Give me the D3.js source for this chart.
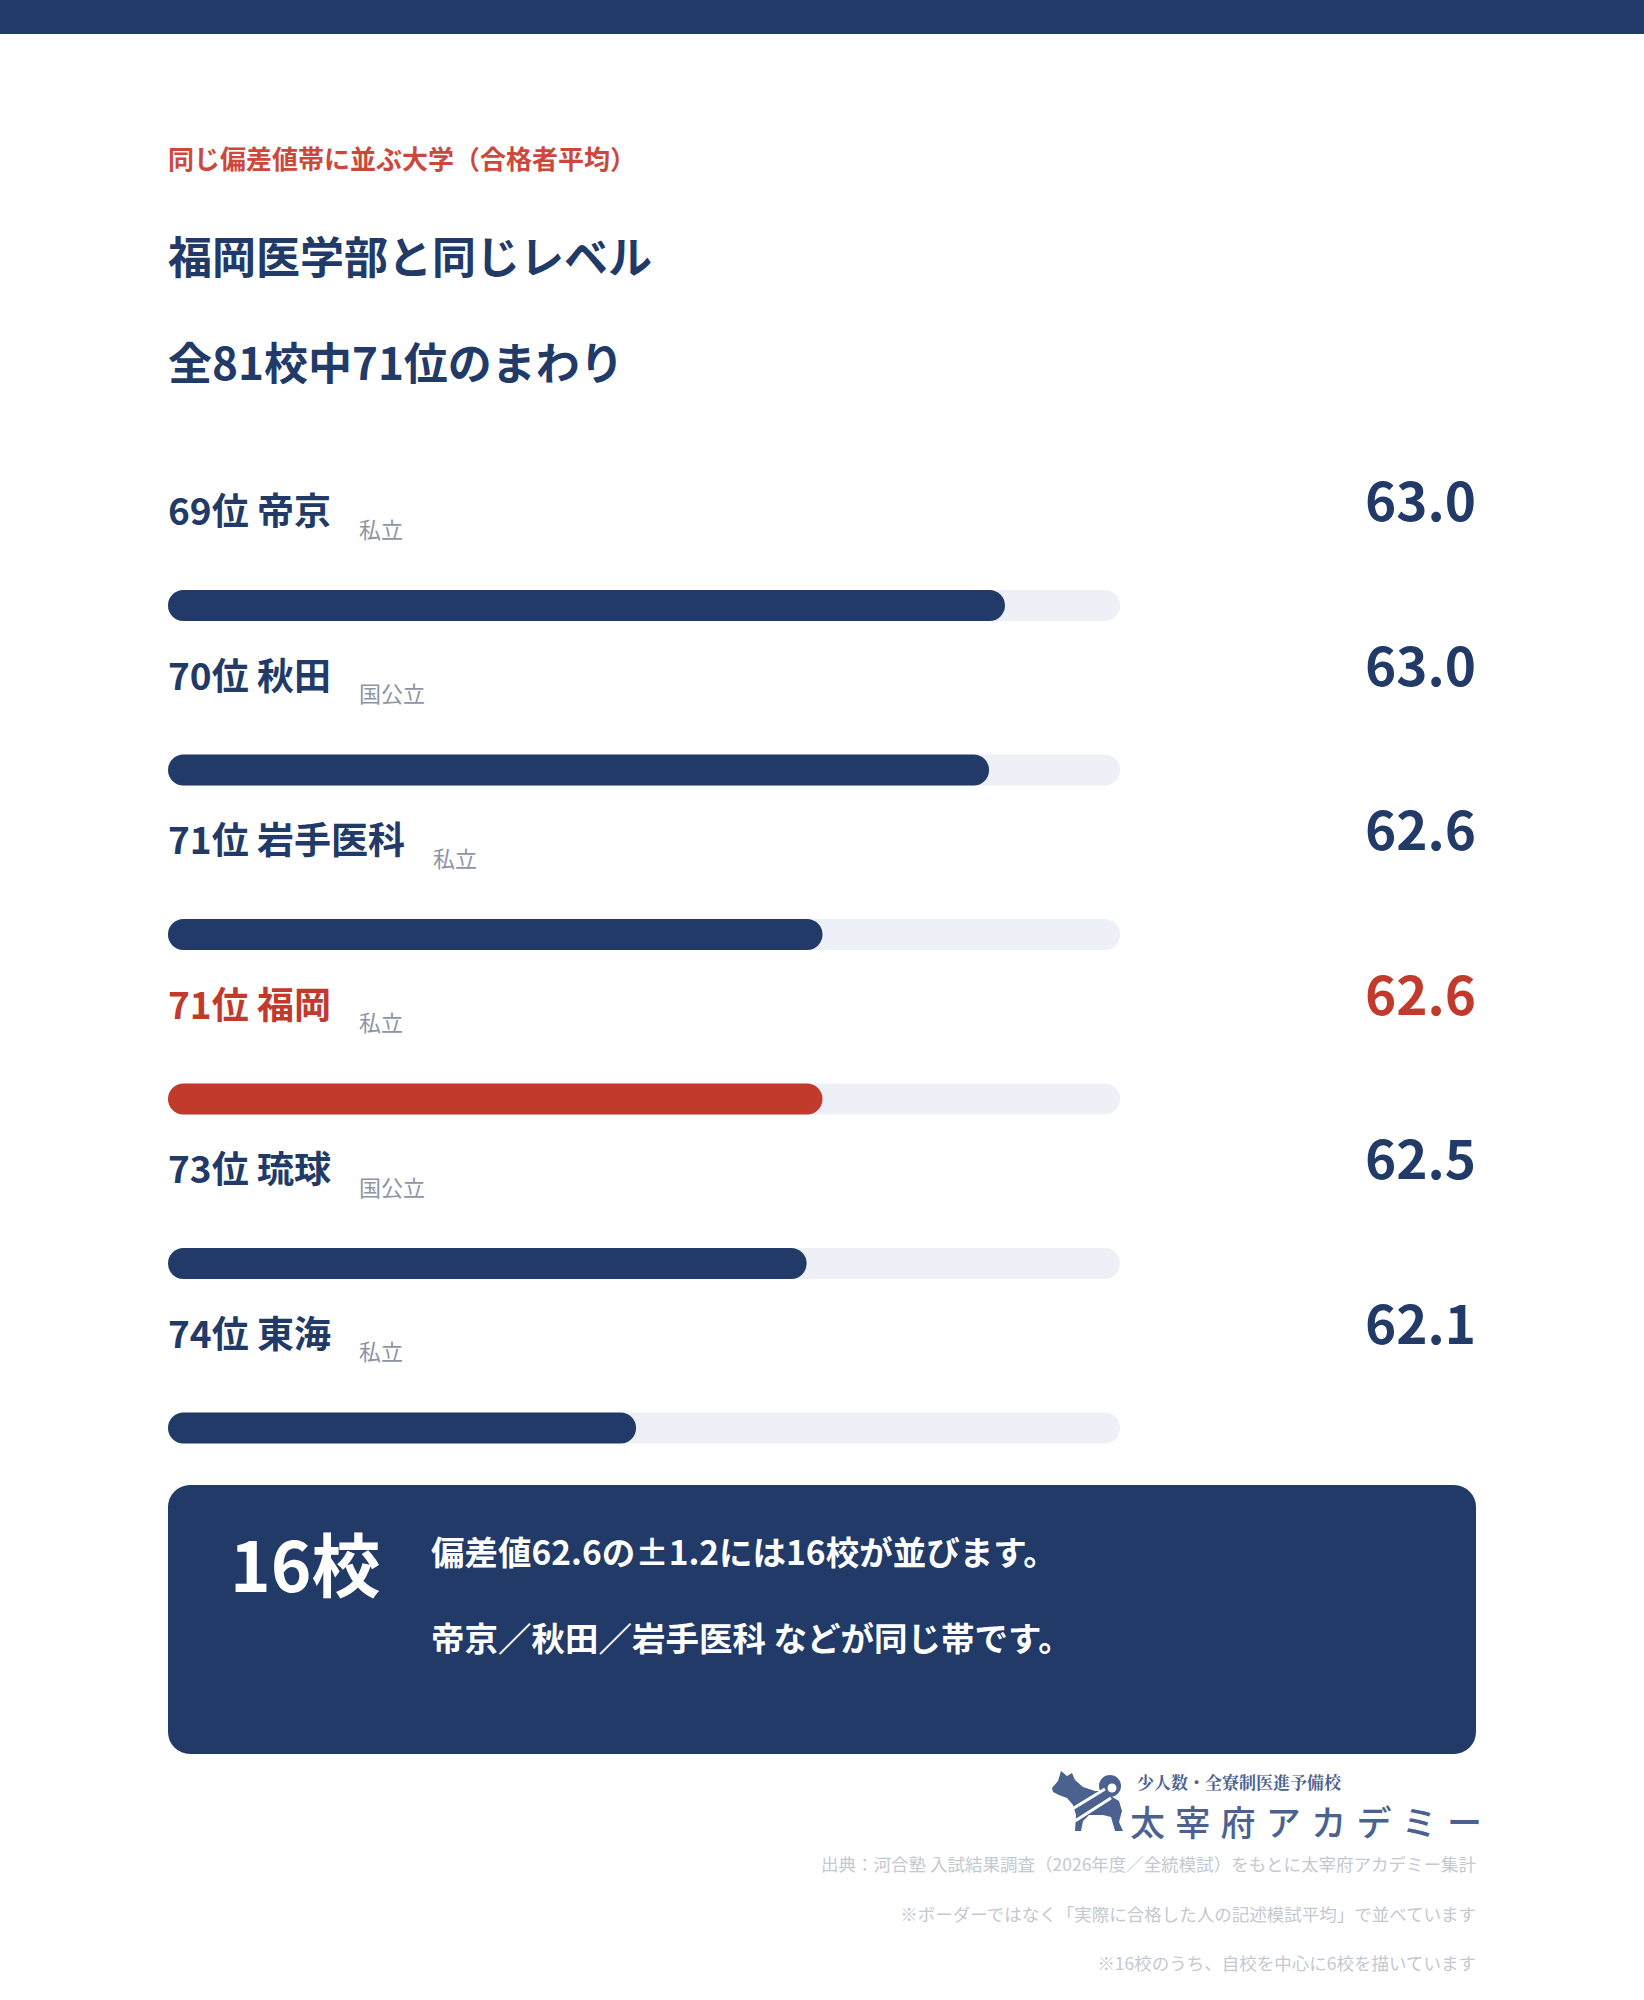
<!DOCTYPE html>
<html lang="ja">
<head>
<meta charset="utf-8">
<title>福岡医学部と同じレベル</title>
<script src="https://cdn.jsdelivr.net/npm/d3@7"></script>
<style>
    html, body { margin: 0; padding: 0; background: #fff; }
    svg { display: block; font-family: "Noto Sans CJK JP", "Noto Sans", sans-serif; }
</style>
</head>
<body>
<svg id="chart"></svg>
<script>
// data
var ranks = [69, 70, 71, 71, 73, 74];
var schools = ["帝京", "秋田", "岩手医科", "福岡", "琉球", "東海"];
var types = ["私立", "国公立", "私立", "私立", "国公立", "私立"];
var scores = [63.03, 62.99, 62.57, 62.57, 62.53, 62.10];
var highlight = "福岡";
var scoreDomain = [60.92, 63.32];

var kicker = "同じ偏差値帯に並ぶ大学（合格者平均）";
var titleLines = ["福岡医学部と同じレベル", "全81校中71位のまわり"];
var bandCount = "16校";
var summaryLines = ["偏差値62.6の±1.2には16校が並びます。", "帝京／秋田／岩手医科 などが同じ帯です。"];
var logoSub = "少人数・全寮制医進予備校";
var logoMain = "太宰府アカデミー";
var notes = [
    "出典：河合塾 入試結果調査（2026年度／全統模試）をもとに太宰府アカデミー集計",
    "※ボーダーではなく「実際に合格した人の記述模試平均」で並べています",
    "※16校のうち、自校を中心に6校を描いています"
];

var navy = "#213a67", red = "#c23a2c", track = "#edf0f7", grey = "#8d95a5";

var W = 1644, H = 2000,
    left = 168, right = 1476,
    trackWidth = 952;

var svg = d3.select("#chart").attr("width", W).attr("height", H);

svg.append("rect").attr("width", W).attr("height", H).attr("fill", "#fff");
svg.append("rect").attr("width", W).attr("height", 34).attr("fill", navy);

// heading
svg.append("text")
    .attr("x", left).attr("y", 169)
    .attr("fill", "#cd483c").attr("font-size", 26).attr("font-weight", 700)
    .text(kicker);

svg.selectAll(".title")
    .data(titleLines)
    .enter().append("text")
    .attr("class", "title")
    .attr("x", left)
    .attr("y", function (d, i) { return 274 + i * 106; })
    .attr("fill", navy).attr("font-size", 44).attr("font-weight", 700)
    .text(function (d) { return d; });

// rows
var rows = schools.map(function (s, i) {
    return {rank: ranks[i], school: s, type: types[i], score: scores[i]};
});

var y = d3.scalePoint().domain(schools).range([525, 525 + 5 * 164.5]);
var x = d3.scaleLinear().domain(scoreDomain).range([0, trackWidth]);
var fmt = d3.format(".1f");
var barH = 31;

var g = svg.selectAll(".row")
    .data(rows)
    .enter().append("g")
    .attr("class", "row")
    .attr("transform", function (d) { return "translate(0," + y(d.school) + ")"; });

g.append("text")
    .attr("class", "label")
    .attr("x", left).attr("y", 0)
    .attr("font-size", 37).attr("font-weight", 700)
    .attr("fill", function (d) { return d.school === highlight ? red : navy; })
    .text(function (d) { return d.rank + "位 " + d.school; });

g.append("text")
    .attr("class", "type")
    .attr("x", function () {
        return left + this.parentNode.querySelector(".label").getComputedTextLength() + 28;
    })
    .attr("y", 12.5)
    .attr("font-size", 22).attr("fill", grey)
    .text(function (d) { return d.type; });

g.append("text")
    .attr("x", right).attr("y", -4)
    .attr("text-anchor", "end")
    .attr("font-size", 53).attr("font-weight", 700)
    .attr("fill", function (d) { return d.school === highlight ? red : navy; })
    .text(function (d) { return fmt(d.score); });

g.append("rect")
    .attr("x", left).attr("y", 65)
    .attr("width", x(scoreDomain[1])).attr("height", barH)
    .attr("rx", barH / 2)
    .attr("fill", track);

g.append("rect")
    .attr("x", left).attr("y", 65)
    .attr("width", function (d) { return x(d.score); }).attr("height", barH)
    .attr("rx", barH / 2)
    .attr("fill", function (d) { return d.school === highlight ? red : navy; });

// summary box
svg.append("rect")
    .attr("x", left).attr("y", 1485)
    .attr("width", right - left).attr("height", 269)
    .attr("rx", 22)
    .attr("fill", navy);

svg.append("text")
    .attr("x", 230).attr("y", 1592)
    .attr("fill", "#fff").attr("font-size", 69).attr("font-weight", 700)
    .text(bandCount);

svg.selectAll(".summary")
    .data(summaryLines)
    .enter().append("text")
    .attr("class", "summary")
    .attr("x", 431)
    .attr("y", function (d, i) { return 1565 + i * 86; })
    .attr("fill", "#fff").attr("font-size", 33.5).attr("font-weight", 700)
    .text(function (d) { return d; });

// logo
var logoColor = "#4b6290";
var logo = svg.append("g").attr("transform", "translate(1045,1765)");
logo.append("path")
    .attr("fill", logoColor)
    .attr("d", "M7,23 L13,16 L16,6 L22,11 L27,8 L30,15 L38,22 L50,26 L58,26 L64,30 " +
        "L74,36 L77,46 L74,57 L78,66 L70,66 L66,52 L58,50 L44,50 L38,56 L36,66 " +
        "L30,66 L31,50 L28,40 L22,33 L14,30 L8,27 Z");
logo.append("circle").attr("cx", 65).attr("cy", 21).attr("r", 11).attr("fill", logoColor);
logo.append("circle").attr("cx", 67).attr("cy", 23).attr("r", 4.5).attr("fill", "#fff");
logo.append("path")
    .attr("stroke", "#fff").attr("stroke-width", 3).attr("fill", "none")
    .attr("d", "M24,46 L60,24 M30,56 L66,33");

svg.append("text")
    .attr("x", 1137).attr("y", 1789)
    .attr("fill", logoColor).attr("font-size", 17).attr("font-weight", 700)
    .attr("font-family", "'Noto Serif CJK JP', 'Noto Sans CJK JP', serif")
    .text(logoSub);

svg.append("text")
    .attr("x", 1130).attr("y", 1836)
    .attr("fill", logoColor).attr("font-size", 35).attr("font-weight", 500)
    .attr("textLength", 352).attr("lengthAdjust", "spacing")
    .text(logoMain);

// footnotes
svg.selectAll(".note")
    .data(notes)
    .enter().append("text")
    .attr("class", "note")
    .attr("x", right)
    .attr("y", function (d, i) { return 1871 + i * 49.5; })
    .attr("text-anchor", "end")
    .attr("fill", "#c4c8d1").attr("font-size", 17.5)
    .text(function (d) { return d; });
</script>
</body>
</html>
